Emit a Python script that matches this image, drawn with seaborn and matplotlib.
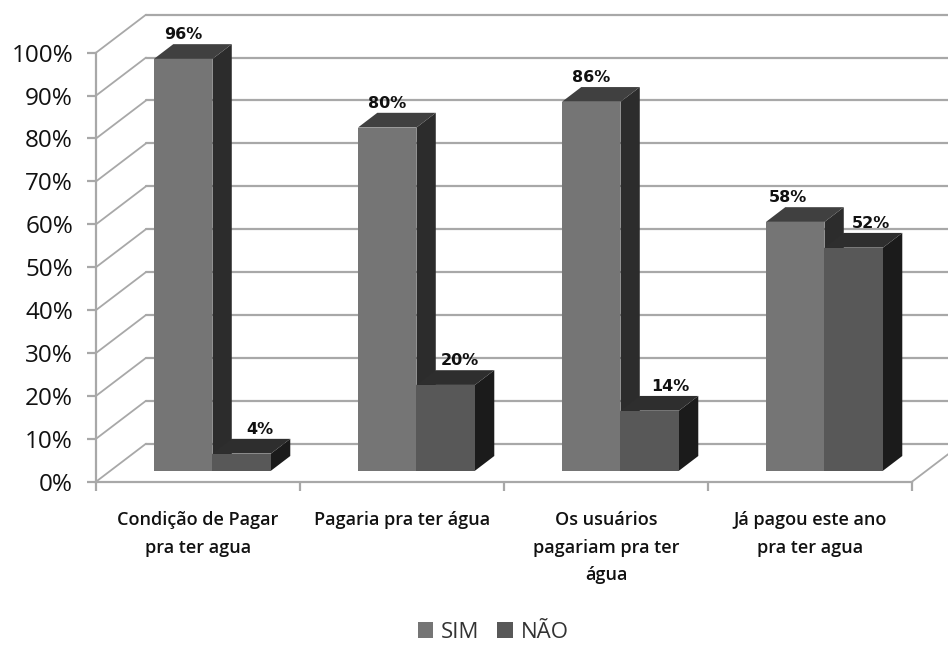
import matplotlib
matplotlib.use("Agg")
import matplotlib.pyplot as plt
import pandas as pd
import seaborn as sns
from matplotlib.patches import Polygon

# Survey answers, in percent
categories = [
    "Condição de Pagar\npra ter agua",
    "Pagaria pra ter água",
    "Os usuários\npagariam pra ter\nágua",
    "Já pagou este ano\npra ter agua",
]
sim_values = [96, 80, 86, 58]
nao_values = [4, 20, 14, 52]
series_names = ["SIM", "NÃO"]
y_ticks = list(range(0, 101, 10))

# Sideways nudges of the value labels, in category units
label_nudges = {"SIM": [0.0, 0.0, 0.0, -0.034], "NÃO": [0.088, 0.069, 0.103, 0.083]}

# Face shades per series
front_colors = {"SIM": "#757575", "NÃO": "#585858"}
top_colors = {"SIM": "#404040", "NÃO": "#2e2e2e"}
side_colors = {"SIM": "#2c2c2c", "NÃO": "#1b1b1b"}
GRID = "#a8a8a8"
TEXT = "#111111"

# Pseudo-3D projection, in data units (categories on x, percent on y)
WALL_DX, WALL_DY = 0.245, 8.86
BAR_DX, BAR_DY = 0.071, 2.56
DEPTH_DX, DEPTH_DY = 0.0946, 3.43

sns.set_theme(style="white")
plt.rcParams["font.family"] = ["Open Sans", "DejaVu Sans"]

df = pd.DataFrame({
    "categoria": categories * 2,
    "serie": [series_names[0]] * 4 + [series_names[1]] * 4,
    "valor": sim_values + nao_values,
})

fig = plt.figure(figsize=(9.48, 6.5), dpi=100)
ax = fig.add_axes([96 / 948, 1 - 481.7 / 650, 816 / 948, 429 / 650])

sns.barplot(
    data=df, x="categoria", y="valor", hue="serie", hue_order=series_names,
    palette=front_colors, width=0.5735, gap=0, saturation=1, ax=ax, linewidth=0,
)
ax.set_xlim(-0.5, 3.5)
ax.set_ylim(0, 100)
ax.set_xlabel("")
ax.set_ylabel("")

# Walls and floor behind the bars
for tick in y_ticks:
    ax.plot([-0.5, -0.5 + WALL_DX], [tick, tick + WALL_DY], color=GRID, lw=1.3,
            clip_on=False, zorder=1)
    ax.plot([-0.5 + WALL_DX, 3.5 + WALL_DX], [tick + WALL_DY] * 2, color=GRID, lw=1.6,
            clip_on=False, zorder=1)
ax.plot([3.5, 3.5 + WALL_DX], [0, WALL_DY], color=GRID, lw=1.3, clip_on=False, zorder=1)

# Push each bar back onto the floor and give it a top and a side face
for container, name in zip(ax.containers, series_names):
    order = 3 if name == series_names[0] else 6
    for bar, value, nudge in zip(container.patches, container.datavalues, label_nudges[name]):
        bar.set_x(bar.get_x() + BAR_DX)
        bar.set_y(BAR_DY)
        bar.set_zorder(order)
        bar.set_clip_on(False)
        x0, x1 = bar.get_x(), bar.get_x() + bar.get_width()
        y0, y1 = BAR_DY, BAR_DY + value
        ax.add_patch(Polygon(
            [(x0, y1), (x1, y1), (x1 + DEPTH_DX, y1 + DEPTH_DY), (x0 + DEPTH_DX, y1 + DEPTH_DY)],
            closed=True, facecolor=top_colors[name], edgecolor="none",
            zorder=order + 1, clip_on=False,
        ))
        ax.add_patch(Polygon(
            [(x1, y0), (x1 + DEPTH_DX, y0 + DEPTH_DY), (x1 + DEPTH_DX, y1 + DEPTH_DY), (x1, y1)],
            closed=True, facecolor=side_colors[name], edgecolor="none",
            zorder=order - 1, clip_on=False,
        ))
        ax.text(
            (x0 + x1) / 2 + nudge, y1 + DEPTH_DY + 0.4, f"{value:.0f}%",
            ha="center", va="bottom", fontsize=11.5, fontweight="bold",
            family="DejaVu Sans", color=TEXT, zorder=10,
        )

# Front axes
for side in ("top", "right"):
    ax.spines[side].set_visible(False)
for side in ("left", "bottom"):
    ax.spines[side].set_color(GRID)
    ax.spines[side].set_linewidth(1.6)
ax.set_yticks(y_ticks, [f"{t}%" for t in y_ticks])
ax.tick_params(axis="y", length=6.5, width=1.6, color=GRID, pad=10,
               left=True, labelsize=17.5, labelcolor=TEXT)
ax.set_xticks(range(len(categories)), categories)
ax.tick_params(axis="x", which="major", length=0, pad=21, labelsize=13, labelcolor=TEXT)
for label in ax.get_xticklabels():
    label.set_fontweight("semibold")
    label.set_linespacing(1.69)
    label.set_verticalalignment("top")
ax.set_xticks([-0.5, 0.5, 1.5, 2.5, 3.5], minor=True)
ax.tick_params(axis="x", which="minor", bottom=True, length=6.5, width=1.6, color=GRID)

sns.move_legend(
    ax, "lower center", bbox_to_anchor=(493 / 948, -0.02), bbox_transform=fig.transFigure,
    ncol=2, title=None, frameon=False, fontsize=16, handlelength=0.7, handleheight=0.7,
    handletextpad=0.35, columnspacing=0.8, labelcolor="#333333",
)

fig.savefig("out.png", dpi=100, facecolor="white")
